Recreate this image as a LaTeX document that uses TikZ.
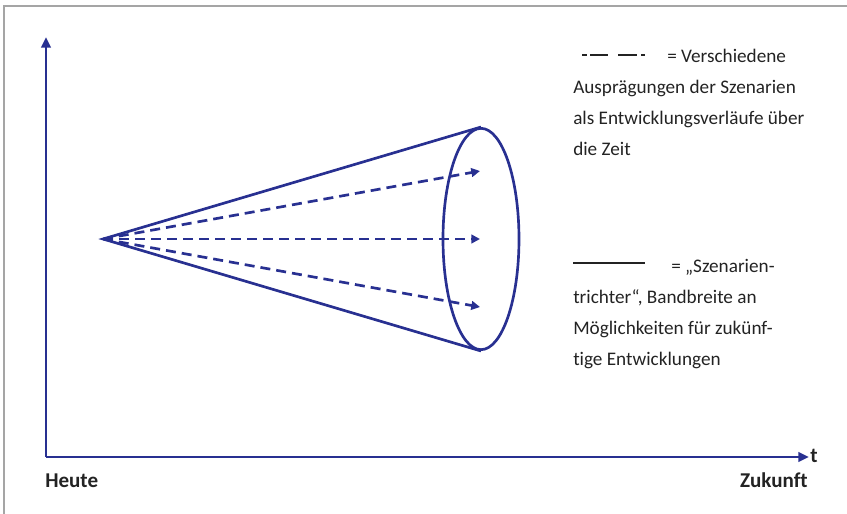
\documentclass[tikz,border=0pt]{standalone}
\usepackage{fontspec}
\setmainfont{Carlito}[Ligatures=NoCommon]
\usetikzlibrary{arrows.meta,shapes.geometric,positioning}
\definecolor{funnelBlue}{RGB}{40,48,145}
\definecolor{frameGray}{RGB}{165,165,165}
\definecolor{textGray}{RGB}{35,35,35}

\begin{document}
\begin{tikzpicture}[
    x=0.75pt, y=-0.75pt,
    axis/.style={-{Triangle[length=8pt,width=7pt]}, funnelBlue, line width=2pt},
    trend/.style={-{Triangle[length=6.5pt,width=6.5pt]}, funnelBlue, line width=2pt, dash pattern=on 7.5pt off 4.5pt},
    rim/.style={funnelBlue, line width=2pt},
    legtext/.style={font=\fontsize{14.4}{23.5}\selectfont, text=textGray, inner sep=0pt, anchor=base west},
    timetext/.style={font=\fontsize{15.8}{18}\selectfont\bfseries, text=textGray, inner sep=0pt}
]
    \useasboundingbox (0,0) rectangle (847,514);
    \draw[frameGray, line width=0.8pt] (4,514) -- (4,6) -- (847,6);

    % Axes
    \coordinate (origin) at (46,457);
    \coordinate (ytop) at (46,37);
    \coordinate (xend) at (809,457);
    \draw[axis] (origin) -- (ytop);
    \draw[axis] (origin) -- (xend);
    \node[timetext, anchor=base west] (t) at (810,462) {t};
    \node[timetext, anchor=base west] (heute) at (45,487) {Heute};
    \node[timetext, anchor=base east] (zukunft) at (808,487) {Zukunft};

    % Szenarientrichter
    \coordinate (apex) at (103,239);
    \node[ellipse, draw, rim, minimum width=57pt, minimum height=166pt, inner sep=0pt] (funnel) at (481,239) {};
    \draw[rim, line join=miter] (funnel.north) -- (apex) -- (funnel.south);

    % Entwicklungsverlaeufe
    \coordinate (upper) at (480,171);
    \coordinate (middle) at (480,239);
    \coordinate (lower) at (480,307);
    \foreach \tip in {upper,middle,lower}
        \draw[trend] (apex) -- (\tip);

    % Legende: gestrichelt
    \coordinate (dashA) at (582,55);
    \coordinate (dashB) at (645,55);
    \draw[textGray, line width=2pt, dash pattern=on 3.75pt off 2.25pt on 13.5pt off 7.5pt on 14.25pt off 3pt on 3pt] (dashA) -- (dashB);
    \node[legtext] (leg1) at (667,62) {= Verschiedene};
    \node[legtext] (leg2) at (573,93) {Ausprägungen der Szenarien};
    \node[legtext] (leg3) at (573,124) {als Entwicklungsverläufe über};
    \node[legtext] (leg4) at (573,155) {die Zeit};

    % Legende: durchgezogen
    \coordinate (solidA) at (573,263);
    \coordinate (solidB) at (645,263);
    \draw[textGray, line width=2pt] (solidA) -- (solidB);
    \node[legtext] (leg5) at (671,272) {= „Szenarien-};
    \node[legtext] (leg6) at (573,303) {trichter“, Bandbreite an};
    \node[legtext] (leg7) at (573,334) {Möglichkeiten für zukünf-};
    \node[legtext] (leg8) at (573,365) {tige Entwicklungen};
\end{tikzpicture}
\end{document}
